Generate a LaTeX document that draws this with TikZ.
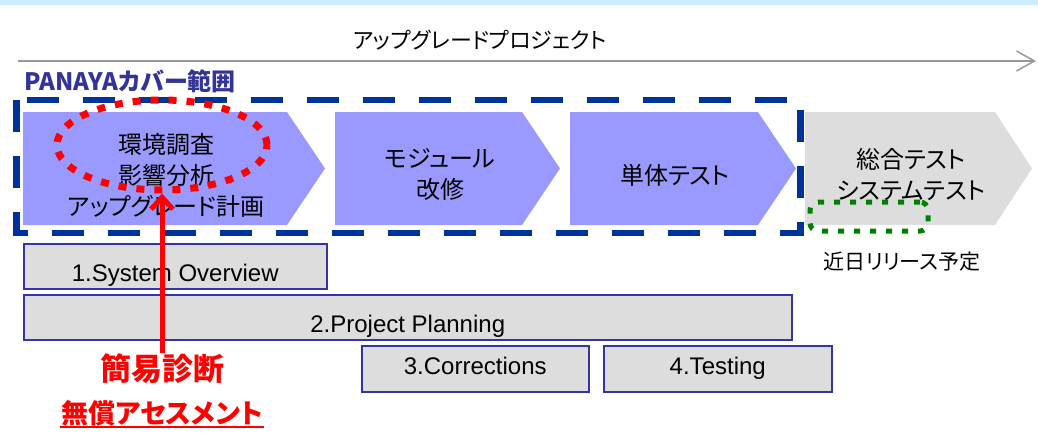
\documentclass[tikz,border=0pt]{standalone}
\usepackage{fontspec}
\setmainfont{Liberation Sans}
\newfontfamily\jp[RawFeature=+palt]{Noto Sans CJK JP}
\usetikzlibrary{arrows.meta}
\usetikzlibrary{shapes.geometric}
\usetikzlibrary{positioning}

\definecolor{bandblue}{HTML}{CCEBFF}
\definecolor{axisgray}{HTML}{999999}
\definecolor{panayablue}{HTML}{333399}
\definecolor{borderblue}{HTML}{003399}
\definecolor{stagepurple}{HTML}{9999FF}
\definecolor{stagegray}{HTML}{DDDDDD}
\definecolor{boxedge}{HTML}{3333AA}
\definecolor{soongreen}{HTML}{008000}

\begin{document}
\begin{tikzpicture}[x=1pt, y=-1pt,
    stagetext/.style={align=center, font=\jp\fontsize{24}{31}\selectfont},
    phasebox/.style={draw=boxedge, line width=1.5pt, fill=stagegray, minimum height=45pt,
        inner sep=0pt, anchor=north west, text height=17pt, text depth=5pt,
        font=\fontsize{24}{26}\selectfont},
    lowtext/.style={text height=36pt, text depth=5pt},
    redtext/.style={text=red, inner sep=1pt}]

    \useasboundingbox (0,0) rectangle (1038,434);
    \fill[bandblue] (0,0) rectangle (1038,5);

    % project time line
    \draw[axisgray, line width=1.5pt, -{Straight Barb[length=18pt,width=20pt]}]
        (18,61) coordinate (tstart) -- (1036,61) coordinate (tend);
    \node[font=\jp\fontsize{22}{26}\selectfont] (project) at (480,40) {アップグレードプロジェクト};

    % stages
    \fill[stagepurple] (23,112) -- (287,112) -- (325,168.5) -- (287,225) -- (23,225) -- cycle;
    \fill[stagepurple] (335,112) -- (522,112) -- (560,168.5) -- (522,225) -- (335,225) -- cycle;
    \fill[stagepurple] (570,112) -- (758,112) -- (796,168.5) -- (758,225) -- (570,225) -- cycle;
    \fill[stagegray] (805,112) -- (995,112) -- (1032,168.5) -- (995,225) -- (805,225) -- cycle;

    \node[stagetext] (survey) at (166,175) {環境調査\\影響分析\\アップグレード計画};
    \node[stagetext] (modify) at (440,174) {モジュール\\改修};
    \node[stagetext] (unittest) at (675,175) {単体テスト};
    \node[stagetext] (systest) at (911,174.5) {総合テスト\\システムテスト};

    % PANAYA scope
    \node[anchor=west, inner sep=0pt, text=panayablue,
        font=\jp\bfseries\fontsize{24}{28}\selectfont] (coverlabel) at (24,81) {PANAYAカバー範囲};
    \draw[borderblue, line width=6.5pt, dash pattern=on 32pt off 24pt]
        (16.5,100) rectangle (800.5,233);

    % coming soon
    \node[draw=soongreen, line width=5pt, dash pattern=on 6pt off 10pt, rounded corners=8pt,
        minimum width=118pt, minimum height=29pt, inner sep=0pt] (soon) at (869,216.5) {};
    \node[font=\jp\fontsize{21}{24}\selectfont] (release) at (902,262) {近日リリース予定};

    % PANAYA phases
    \node[phasebox, lowtext, minimum width=303pt] (overview) at (23,243) {1.System Overview};
    \node[phasebox, lowtext, minimum width=768pt] (planning) at (23,294) {2.Project Planning};
    \node[phasebox, minimum width=227pt, minimum height=46pt] (corrections) at (361,345) {3.Corrections};
    \node[phasebox, minimum width=228pt, minimum height=46pt] (testing) at (603,345) {4.Testing};

    % quick assessment
    \node[ellipse, draw=red, line width=7pt, dash pattern=on 8pt off 10pt,
        minimum width=210pt, minimum height=90pt, inner sep=0pt] (scan) at (162,145) {};
    \node[redtext, font=\jp\bfseries\fontsize{31}{34}\selectfont] (diag) at (162,369) {簡易診断};
    \node[redtext, font=\jp\bfseries\fontsize{27}{30}\selectfont] (free) at (162,413) {無償アセスメント};
    \draw[red, line width=2pt] (free.south west) -- (free.south east);
    \draw[red, line width=5pt, -{Straight Barb[length=12pt,width=22pt]}] (diag.north) -- (scan.south);

\end{tikzpicture}
\end{document}
